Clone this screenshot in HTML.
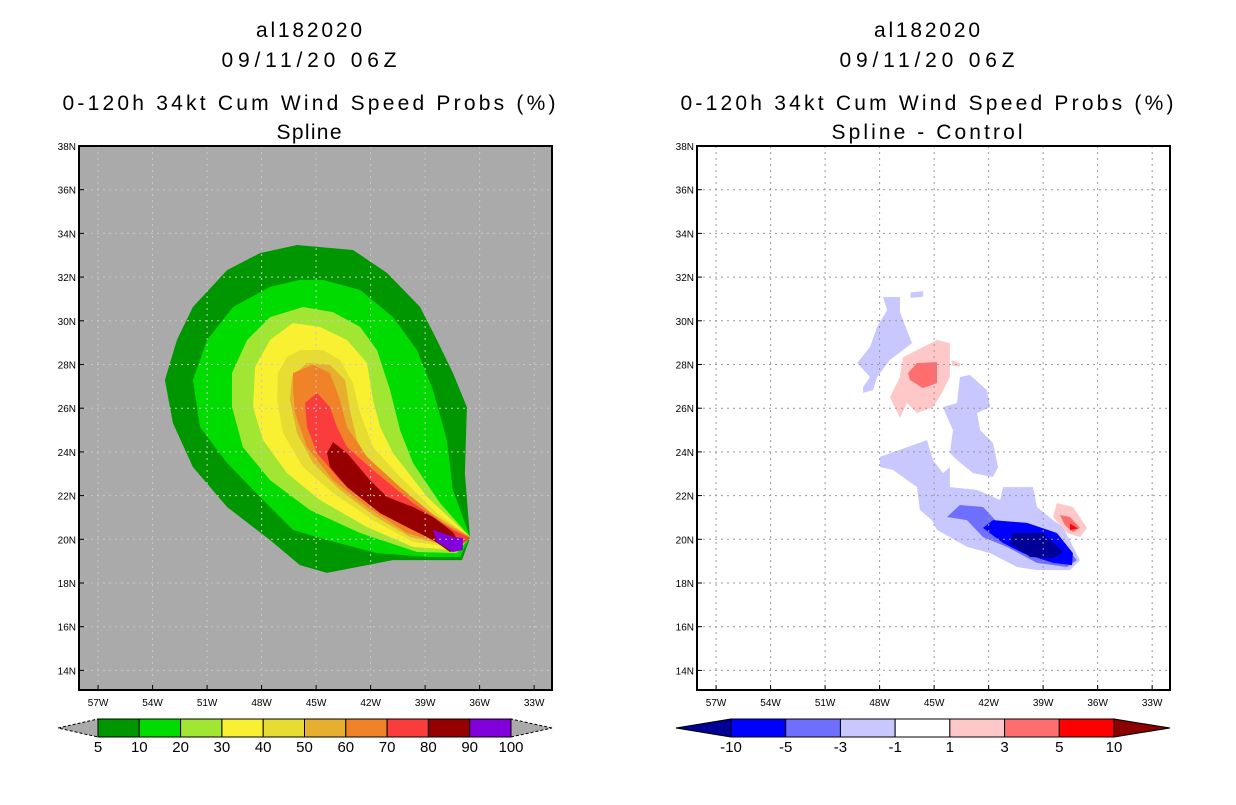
<!DOCTYPE html>
<html><head><meta charset="utf-8"><style>
body{margin:0;background:#fff;width:1236px;height:800px;overflow:hidden}
svg text{font-family:"Liberation Sans",sans-serif}
</style></head><body>
<svg id="s" width="1236" height="800" viewBox="0 0 1236 800" xmlns="http://www.w3.org/2000/svg">
<defs>
<clipPath id="cl"><rect x="79" y="146" width="473" height="544"/></clipPath>
<clipPath id="cr"><rect x="697" y="146" width="473" height="544"/></clipPath>
</defs>
<g font-size="21" text-anchor="middle" fill="#000">
<text x="309" y="37" textLength="106" lengthAdjust="spacing">al182020</text><text x="309" y="67" textLength="175" lengthAdjust="spacing">09/11/20 06Z</text>
<text x="309" y="110" textLength="493" lengthAdjust="spacing">0-120h 34kt Cum Wind Speed Probs (%)</text><text x="309" y="139" textLength="65" lengthAdjust="spacing">Spline</text></g>
<g font-size="21" text-anchor="middle" fill="#000">
<text x="927" y="37" textLength="106" lengthAdjust="spacing">al182020</text><text x="927" y="67" textLength="175" lengthAdjust="spacing">09/11/20 06Z</text>
<text x="927" y="110" textLength="493" lengthAdjust="spacing">0-120h 34kt Cum Wind Speed Probs (%)</text><text x="927" y="139" textLength="191" lengthAdjust="spacing">Spline - Control</text></g>
<rect x="79" y="146" width="473" height="544" fill="#aaaaaa"/>
<rect x="697" y="146" width="473" height="544" fill="#ffffff"/>
<g id="gl" clip-path="url(#cl)"></g>
<g id="gr" clip-path="url(#cr)"></g>
<g id="gridl"></g>
<g id="gridr"></g>
<rect x="79" y="146" width="473" height="544" fill="none" stroke="#000" stroke-width="2"/>
<rect x="697" y="146" width="473" height="544" fill="none" stroke="#000" stroke-width="2"/>
<g id="axes" font-size="10" fill="#000"></g>
<g id="cbl"></g>
<g id="cbr"></g>
</svg>
<script>
const lonTicks=[57,54,51,48,45,42,39,36,33];
const latTicks=[14,16,18,20,22,24,26,28,30,32,34,36,38];
const leftLevels=["5","10","20","30","40","50","60","70","80","90","100"];
const leftColors=["#009600","#00dc00","#a0e632","#faf032","#e6dc32","#e6af2d","#f08228","#fa3c3c","#960000","#8200dc"];
const rightLevels=["-10","-5","-3","-1","1","3","5","10"];
const rightColors=["#000096","#0000ff","#6e6eff","#c8c8ff","#ffffff","#ffc8c8","#ff6e6e","#ff0000"];
// contour polygons: [lonW, latN]
const prob5=[[46.05,33.47],[42.97,33.24],[41.1,32.19],[39.28,30.63],[38.35,29.12],[37.47,27.61],[36.7,26.05],[36.81,23.03],[36.53,20.06],[36.97,19.05],[40.77,19.05],[44.4,18.46],[45.89,18.82],[47.54,19.97],[49.9,21.48],[51.78,23.31],[52.88,25.32],[53.32,27.29],[52.66,29.12],[51.78,30.63],[49.9,32.32],[48.09,33.1]];
const prob10=[[44.62,31.87],[42.58,31.41],[40.77,30.17],[39.45,28.66],[38.57,26.83],[37.8,24.54],[37.47,22.26],[36.53,20.11],[37.08,19.19],[38.9,19.19],[41.65,19.37],[44.4,19.97],[46.27,20.43],[48.09,21.94],[49.9,23.49],[51.39,25.14],[51.78,27.29],[51.0,29.12],[49.57,30.63],[47.54,31.55],[45.89,31.87]];
const prob20=[[45.72,30.63],[44.07,30.4],[42.58,29.72],[41.65,28.66],[40.93,26.83],[40.38,25.0],[39.67,23.49],[38.18,21.66],[36.53,20.11],[37.25,19.37],[39.45,19.42],[42.58,20.29],[45.34,21.34],[47.54,22.71],[49.03,24.22],[49.63,26.05],[49.63,27.61],[48.8,29.12],[47.54,30.17]];
const prob30=[[46.27,29.9],[44.79,29.72],[43.3,29.12],[42.2,28.07],[41.87,26.38],[41.48,25.14],[40.77,23.95],[38.9,21.94],[36.53,20.11],[37.47,19.51],[39.67,19.65],[42.2,20.56],[44.79,21.8],[46.6,23.03],[47.92,24.54],[48.47,26.05],[48.36,27.89],[47.54,29.12]];
const prob40=[[45.89,28.66],[44.62,28.66],[43.69,28.21],[42.97,27.15],[42.58,25.78],[41.87,24.22],[40.38,22.85],[38.35,21.2],[36.53,20.11],[37.63,19.65],[39.67,19.88],[41.87,20.88],[44.07,22.12],[45.72,23.31],[46.82,24.86],[47.15,26.38],[47.1,27.61],[46.6,28.34]];
const prob50=[[45.5,28.07],[44.24,27.98],[43.41,27.29],[43.14,25.92],[42.75,24.54],[41.87,23.17],[39.83,21.8],[36.53,20.11],[37.91,19.74],[39.83,20.11],[41.87,21.11],[43.69,22.26],[45.17,23.49],[46.05,24.86],[46.44,26.38],[46.33,27.43]];
const prob60=[[46.27,27.61],[45.17,27.98],[44.24,27.61],[43.69,26.38],[43.3,25.14],[42.2,23.77],[40.38,22.39],[38.02,20.75],[36.53,20.11],[37.8,19.74],[40.0,20.29],[42.2,21.48],[44.07,22.71],[45.5,24.22],[46.16,25.78],[46.27,26.97]];
const prob70=[[44.95,26.7],[44.24,26.05],[43.85,25.14],[43.3,24.22],[41.87,23.17],[39.67,21.66],[37.47,20.43],[36.53,20.06],[37.47,19.42],[39.28,20.29],[41.87,21.48],[43.69,22.71],[44.95,23.95],[45.5,25.14],[45.61,26.24]];
const prob80=[[44.4,23.95],[44.07,24.45],[43.3,23.95],[42.04,22.71],[41.1,21.94],[39.67,21.48],[38.57,21.02],[37.47,20.33],[36.92,19.6],[37.63,19.42],[38.57,19.97],[40.0,20.56],[41.48,21.2],[43.3,22.39],[44.24,23.31]];
const prob90=[[38.57,20.43],[37.47,20.11],[36.92,20.06],[36.92,19.51],[37.47,19.42],[38.35,19.88]];
const diffNeg1a=[[47.81,31.09],[46.88,31.09],[46.88,30.4],[46.22,28.98],[47.43,28.21],[48.14,27.43],[48.36,26.83],[48.91,26.7],[48.91,26.97],[48.53,27.43],[49.24,28.07],[48.53,28.8],[48.14,29.72],[47.59,30.49]];
const diffNeg1b=[[43.58,27.43],[43.03,27.52],[42.09,26.83],[41.92,26.05],[42.64,25.78],[42.47,25.0],[41.76,24.41],[41.48,23.31],[41.76,22.85],[42.86,23.03],[43.74,23.63],[44.13,23.95],[43.96,25.0],[44.29,25.6],[44.51,26.05],[43.74,26.24]];
const diffNeg1c=[[47.98,23.77],[45.39,24.54],[45.06,23.63],[44.51,23.03],[44.13,23.31],[44.13,22.39],[42.64,22.26],[41.37,21.8],[41.21,22.39],[39.56,22.39],[39.34,21.48],[38.46,20.88],[37.91,20.56],[36.97,19.05],[37.52,18.59],[39.34,18.59],[40.44,18.73],[41.92,19.37],[43.19,19.65],[44.84,20.43],[45.12,20.88],[45.78,21.34],[45.94,22.39],[47.26,23.17],[47.98,23.31]];
const diffNeg1d=[[46.3,31.3],[45.6,31.35],[45.6,31.1],[46.3,31.05]];
const diffNeg3=[[44.29,21.02],[43.58,21.57],[42.31,21.48],[41.54,20.79],[39.34,20.56],[37.91,19.83],[37.14,19.05],[37.69,18.73],[39.34,18.92],[40.99,19.65],[42.31,20.1],[43.19,20.88]];
const diffNeg5=[[42.31,20.52],[41.76,20.88],[39.89,20.75],[38.24,20.29],[37.36,19.37],[37.41,18.82],[38.46,18.92],[40.11,19.37],[41.21,19.83]];
const diffNeg10=[[40.66,20.29],[39.01,20.29],[37.91,19.42],[38.46,19.14],[39.72,19.19],[40.83,19.83]];
const diffPos1a=[[45.94,28.66],[44.84,29.12],[44.13,28.98],[44.13,27.43],[44.57,26.7],[45.06,26.05],[45.94,25.78],[46.49,26.24],[46.88,25.55],[47.43,26.51],[46.88,27.43],[46.71,28.34]];
const diffPos1b=[[38.24,21.66],[37.36,21.48],[36.59,20.52],[36.97,20.1],[37.69,20.29],[38.46,21.02]];
const diffPos1c=[[44.45,29.0],[44.1,28.95],[44.2,28.7],[44.35,28.65]];
const diffPos1d=[[44.05,28.2],[43.55,28.05],[43.6,27.9],[44.0,27.95]];
const diffPos3a=[[45.94,28.07],[44.84,28.11],[44.84,27.15],[45.61,26.92],[46.33,27.29],[46.44,27.61]];
const diffPos3b=[[38.07,21.11],[37.52,21.02],[36.97,20.52],[37.36,20.33],[37.8,20.65]];
const diffPos5=[[37.52,20.72],[37.1,20.5],[37.52,20.42]];

const NS="http://www.w3.org/2000/svg";
function mk(t,a,p){const e=document.createElementNS(NS,t);for(const k in a)e.setAttribute(k,a[k]);p.appendChild(e);return e;}
const LONW=58.05, LATN=38, PXD=18.17, PYD=21.85;
function xL(w,x0){return x0+(LONW-w)*PXD;}
function yL(n){return 146+(LATN-n)*PYD;}
function draw(poly,col,g,x0,name){
  const p=mk('polygon',{points:poly.map(q=>xL(q[0],x0).toFixed(1)+','+yL(q[1]).toFixed(1)).join(' '),fill:col},g);
  
  
}
const gl=document.getElementById('gl'),gr=document.getElementById('gr');
[[prob5,0],[prob10,1],[prob20,2],[prob30,3],[prob40,4],[prob50,5],[prob60,6],[prob70,7],[prob80,8],[prob90,9]].forEach(([p,i])=>draw(p,leftColors[i],gl,79,'prob-contour-'+leftLevels[i]));
[[diffNeg1a,3],[diffNeg1b,3],[diffNeg1c,3],[diffNeg1d,3],[diffNeg3,2],[diffNeg5,1],[diffNeg10,0],[diffPos1a,5],[diffPos1b,5],[diffPos1c,5],[diffPos1d,5],[diffPos3a,6],[diffPos3b,6],[diffPos5,7]].forEach(([p,i],k)=>draw(p,rightColors[i],gr,697,'diff-contour-'+k));
// grids and axes
const ax=document.getElementById('axes');
[[79,'gridl','#c8c8c8'],[697,'gridr','#999999']].forEach(([x0,id,c])=>{
  const g=document.getElementById(id);
  lonTicks.forEach(w=>{const x=xL(w,x0);
    const l=mk('line',{x1:x,x2:x,y1:146,y2:690,stroke:c,'stroke-dasharray':'2,4'},g);
    
    
    const t=mk('text',{x:x,y:706,'text-anchor':'middle'},ax);t.textContent=w+'W';
    
    
    mk('line',{x1:x,x2:x,y1:690,y2:685,stroke:'#000'},ax);});
  latTicks.forEach(n=>{const y=yL(n);
    const l=mk('line',{x1:x0,x2:x0+473,y1:y,y2:y,stroke:c,'stroke-dasharray':'2,4'},g);
    
    
    const t=mk('text',{x:x0-3,y:y+4,'text-anchor':'end'},ax);t.textContent=n+'N';
    
    
    mk('line',{x1:x0,x2:x0+5,y1:y,y2:y,stroke:'#000'},ax);});
});
// colorbars
function cbar(g,levels,colors,x0,x1,lt,rt,lc,rc,xs,tri){
  const w=(x1-x0)/colors.length;
  mk('polygon',{points:`${lt},728 ${x0},719 ${x0},737`,fill:lc,stroke:'#000','stroke-width':1,'stroke-dasharray':tri},g);
  mk('polygon',{points:`${rt},728 ${x1},719 ${x1},737`,fill:rc,stroke:'#000','stroke-width':1,'stroke-dasharray':tri},g);
  colors.forEach((c,i)=>{const r=mk('rect',{x:x0+i*w,y:719,width:w,height:18,fill:c,stroke:'#000','stroke-width':1},g);
    
    });
  levels.forEach((s,i)=>{const t=mk('text',{x:xs(i,w),y:752,'text-anchor':'middle','font-size':15},g);t.textContent=s;
    
    });
}
cbar(document.getElementById('cbl'),leftLevels,leftColors,98,511,58,552,'#aaaaaa','#aaaaaa',(i,w)=>98+i*w,'3,2');
cbar(document.getElementById('cbr'),rightLevels,rightColors.slice(1),731,1114,676,1170,'#000096','#8c0000',(i,w)=>731+i*w,'none');
</script>
</body></html>
